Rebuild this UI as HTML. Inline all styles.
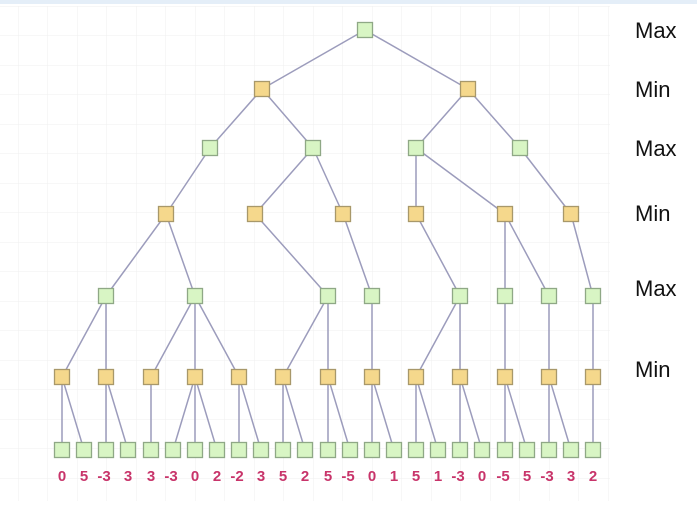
<!DOCTYPE html>
<html><head><style>
html,body{margin:0;padding:0;background:#fff;}
svg{display:block;}
text{font-family:"Liberation Sans",Arial,sans-serif;}
</style></head><body>
<svg width="697" height="516" viewBox="0 0 697 516" xmlns="http://www.w3.org/2000/svg">
<defs>
<pattern id="g" width="29.5" height="29.5" patternUnits="userSpaceOnUse" x="18" y="6">
<path d="M0 0H29.5M0 0V29.5" stroke="#efefef" stroke-width="1" fill="none"/>
</pattern>
</defs>
<rect width="697" height="516" fill="#fff"/>
<rect x="0" y="6" width="610" height="495" fill="url(#g)"/>
<rect x="0" y="0" width="697" height="4" fill="#e4eef8"/>
<g stroke="#9c9cbc" stroke-width="1.5" fill="none">
<path d="M365 30L262 89M365 30L468 89"/>
<path d="M262 89L210 148M262 89L313 148M468 89L416 148M468 89L520 148"/>
<path d="M210 148L166 214M313 148L255 214M313 148L343 214M416 148L416 214M416 148L505 214M520 148L571 214"/>
<path d="M166 214L106 296M166 214L195 296M255 214L328 296M343 214L372 296M416 214L460 296M505 214L505 296M505 214L549 296M571 214L593 296"/>
<path d="M106 296L62 377M106 296L106 377M195 296L151 377M195 296L195 377M195 296L239 377M328 296L283 377M328 296L328 377M372 296L372 377M460 296L416 377M460 296L460 377M505 296L505 377M549 296L549 377M593 296L593 377"/>
<path d="M62 377L62 450M62 377L84 450M106 377L106 450M106 377L128 450M151 377L151 450M195 377L173 450M195 377L195 450M195 377L217 450M239 377L239 450M239 377L261 450M283 377L283 450M283 377L305 450M328 377L328 450M328 377L350 450M372 377L372 450M372 377L394 450M416 377L416 450M416 377L438 450M460 377L460 450M460 377L482 450M505 377L505 450M505 377L527 450M549 377L549 450M549 377L571 450M593 377L593 450"/>
</g>
<g fill="#d8f5c4" stroke="#8fa886" stroke-width="1.3">
<rect x="357.5" y="22.5" width="15" height="15"/>
<rect x="202.5" y="140.5" width="15" height="15"/><rect x="305.5" y="140.5" width="15" height="15"/><rect x="408.5" y="140.5" width="15" height="15"/><rect x="512.5" y="140.5" width="15" height="15"/>
<rect x="98.5" y="288.5" width="15" height="15"/><rect x="187.5" y="288.5" width="15" height="15"/><rect x="320.5" y="288.5" width="15" height="15"/><rect x="364.5" y="288.5" width="15" height="15"/><rect x="452.5" y="288.5" width="15" height="15"/><rect x="497.5" y="288.5" width="15" height="15"/><rect x="541.5" y="288.5" width="15" height="15"/><rect x="585.5" y="288.5" width="15" height="15"/>
<rect x="54.5" y="442.5" width="15" height="15"/><rect x="76.5" y="442.5" width="15" height="15"/><rect x="98.5" y="442.5" width="15" height="15"/><rect x="120.5" y="442.5" width="15" height="15"/><rect x="143.5" y="442.5" width="15" height="15"/><rect x="165.5" y="442.5" width="15" height="15"/><rect x="187.5" y="442.5" width="15" height="15"/><rect x="209.5" y="442.5" width="15" height="15"/><rect x="231.5" y="442.5" width="15" height="15"/><rect x="253.5" y="442.5" width="15" height="15"/><rect x="275.5" y="442.5" width="15" height="15"/><rect x="297.5" y="442.5" width="15" height="15"/><rect x="320.5" y="442.5" width="15" height="15"/><rect x="342.5" y="442.5" width="15" height="15"/><rect x="364.5" y="442.5" width="15" height="15"/><rect x="386.5" y="442.5" width="15" height="15"/><rect x="408.5" y="442.5" width="15" height="15"/><rect x="430.5" y="442.5" width="15" height="15"/><rect x="452.5" y="442.5" width="15" height="15"/><rect x="474.5" y="442.5" width="15" height="15"/><rect x="497.5" y="442.5" width="15" height="15"/><rect x="519.5" y="442.5" width="15" height="15"/><rect x="541.5" y="442.5" width="15" height="15"/><rect x="563.5" y="442.5" width="15" height="15"/><rect x="585.5" y="442.5" width="15" height="15"/>
</g>
<g fill="#f5d88c" stroke="#a8986a" stroke-width="1.3">
<rect x="254.5" y="81.5" width="15" height="15"/><rect x="460.5" y="81.5" width="15" height="15"/>
<rect x="158.5" y="206.5" width="15" height="15"/><rect x="247.5" y="206.5" width="15" height="15"/><rect x="335.5" y="206.5" width="15" height="15"/><rect x="408.5" y="206.5" width="15" height="15"/><rect x="497.5" y="206.5" width="15" height="15"/><rect x="563.5" y="206.5" width="15" height="15"/>
<rect x="54.5" y="369.5" width="15" height="15"/><rect x="98.5" y="369.5" width="15" height="15"/><rect x="143.5" y="369.5" width="15" height="15"/><rect x="187.5" y="369.5" width="15" height="15"/><rect x="231.5" y="369.5" width="15" height="15"/><rect x="275.5" y="369.5" width="15" height="15"/><rect x="320.5" y="369.5" width="15" height="15"/><rect x="364.5" y="369.5" width="15" height="15"/><rect x="408.5" y="369.5" width="15" height="15"/><rect x="452.5" y="369.5" width="15" height="15"/><rect x="497.5" y="369.5" width="15" height="15"/><rect x="541.5" y="369.5" width="15" height="15"/><rect x="585.5" y="369.5" width="15" height="15"/>
</g>
<g fill="#c8346a" font-size="15" font-weight="bold" text-anchor="middle">
<text x="62" y="481">0</text><text x="84" y="481">5</text><text x="104" y="481">-3</text><text x="128" y="481">3</text><text x="151" y="481">3</text><text x="171" y="481">-3</text><text x="195" y="481">0</text><text x="217" y="481">2</text><text x="237" y="481">-2</text><text x="261" y="481">3</text><text x="283" y="481">5</text><text x="305" y="481">2</text><text x="328" y="481">5</text><text x="348" y="481">-5</text><text x="372" y="481">0</text><text x="394" y="481">1</text><text x="416" y="481">5</text><text x="438" y="481">1</text><text x="458" y="481">-3</text><text x="482" y="481">0</text><text x="503" y="481">-5</text><text x="527" y="481">5</text><text x="547" y="481">-3</text><text x="571" y="481">3</text><text x="593" y="481">2</text>
</g>
<g fill="#111" font-size="22">
<text x="635" y="38">Max</text>
<text x="635" y="97">Min</text>
<text x="635" y="156">Max</text>
<text x="635" y="221">Min</text>
<text x="635" y="296">Max</text>
<text x="635" y="377">Min</text>
</g>
</svg>
</body></html>
